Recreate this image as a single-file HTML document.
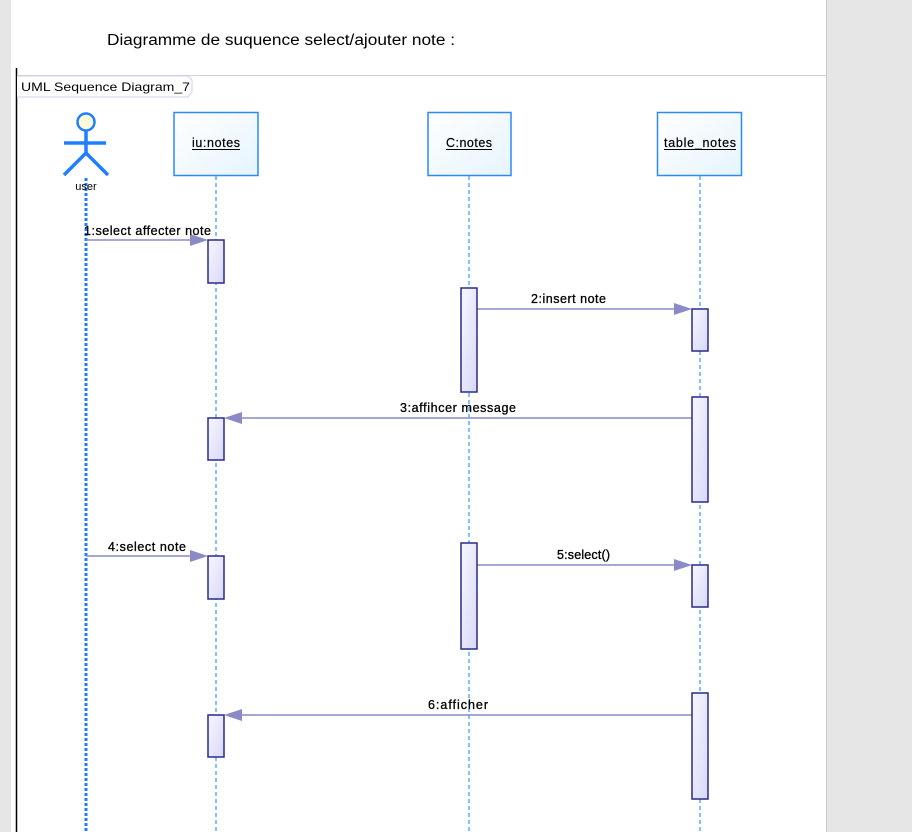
<!DOCTYPE html>
<html><head><meta charset="utf-8"><style>
html,body{margin:0;padding:0;width:912px;height:832px;overflow:hidden;background:#e6e6e6}
svg{display:block}
</style></head><body>
<svg width="912" height="832" xmlns="http://www.w3.org/2000/svg" font-family="'Liberation Sans',sans-serif">
<defs>
<linearGradient id="ag" x1="0" y1="0" x2="1" y2="1"><stop offset="0" stop-color="#f7f7ff"/><stop offset="1" stop-color="#d8d8f8"/></linearGradient>
<linearGradient id="bg" x1="0" y1="0" x2="1" y2="1"><stop offset="0" stop-color="#ffffff"/><stop offset="1" stop-color="#e6f4fd"/></linearGradient>
</defs>
<rect x="0" y="0" width="912" height="832" fill="#e6e6e6"/>
<rect x="11" y="0" width="815" height="832" fill="#fff"/>
<line x1="826.5" y1="0" x2="826.5" y2="832" stroke="#c8c8c8"/>
<text x="107" y="45" font-size="15.5" fill="#000" textLength="348" lengthAdjust="spacingAndGlyphs">Diagramme de suquence select/ajouter note :</text>
<line x1="16" y1="75.5" x2="826" y2="75.5" stroke="#d0d0e4"/>
<line x1="16.5" y1="68" x2="16.5" y2="832" stroke="#000" stroke-width="1.5"/>
<path d="M17 76 H188 L192 80 V92 L188 97 H17" fill="#fff" stroke="#d0d0e4"/>
<text x="21" y="91" font-size="12" fill="#000" textLength="169" lengthAdjust="spacingAndGlyphs">UML Sequence Diagram_7</text>

<line x1="86" y1="178" x2="86" y2="832" stroke="#1e7fff" stroke-width="3" stroke-dasharray="3,2"/>
<g stroke="#3399ff" stroke-width="1.2" stroke-dasharray="4,3">
<line x1="216" y1="176" x2="216" y2="832"/>
<line x1="469" y1="176" x2="469" y2="832"/>
<line x1="700" y1="176" x2="700" y2="832"/>
</g>

<circle cx="86" cy="122" r="8.5" fill="#fdfbd8" stroke="#1e7fff" stroke-width="2.5"/>
<g stroke="#1e7fff" stroke-width="3.5" fill="none">
<line x1="86" y1="131" x2="86" y2="153"/>
<line x1="64" y1="143" x2="106" y2="143"/>
<path d="M64 175 L86 153 L108 175"/>
</g>
<text x="86" y="190" font-size="11" text-anchor="middle" fill="#000">user</text>

<g stroke="#2a8af6" stroke-width="1.5" fill="url(#bg)">
<rect x="174" y="112.5" width="84" height="63"/>
<rect x="428" y="112.5" width="83" height="63"/>
<rect x="657.5" y="112.5" width="84" height="63"/>
</g>
<g font-size="12.5" fill="#000" stroke="#000" stroke-width="0.2" lengthAdjust="spacingAndGlyphs">
<text x="192" y="147" textLength="48">iu:notes</text>
<text x="446" y="147" textLength="46">C:notes</text>
<text x="664" y="147" textLength="72">table_notes</text>
</g>
<g stroke="#000" stroke-width="1">
<line x1="192" y1="149.5" x2="240" y2="149.5"/>
<line x1="446" y1="149.5" x2="492" y2="149.5"/>
<line x1="664" y1="149.5" x2="736" y2="149.5"/>
</g>

<g stroke="#8a8ac6" stroke-width="1.5">
<line x1="86" y1="240" x2="200" y2="240"/>
<line x1="477" y1="309" x2="684" y2="309"/>
<line x1="692" y1="418" x2="232" y2="418"/>
<line x1="86" y1="556" x2="200" y2="556"/>
<line x1="477" y1="565" x2="684" y2="565"/>
<line x1="692" y1="715" x2="232" y2="715"/>
</g>
<g fill="#8a8ac6">
<path d="M208 240 L190 234 L190 246Z"/>
<path d="M692 309 L674 303 L674 315Z"/>
<path d="M224 418 L242 412 L242 424Z"/>
<path d="M208 556 L190 550 L190 562Z"/>
<path d="M692 565 L674 559 L674 571Z"/>
<path d="M224 715 L242 709 L242 721Z"/>
</g>
<g font-size="12.5" fill="#000" stroke="#000" stroke-width="0.3" lengthAdjust="spacingAndGlyphs">
<text x="84" y="235" textLength="127">1:select affecter note</text>
<text x="531" y="303" textLength="75">2:insert note</text>
<text x="400" y="412" textLength="116">3:affihcer message</text>
<text x="108" y="551" textLength="78">4:select note</text>
<text x="557" y="559" textLength="53">5:select()</text>
<text x="428" y="709" textLength="60">6:afficher</text>
</g>

<g fill="url(#ag)" stroke="#2a2a8a" stroke-width="1.5">
<rect x="208" y="240" width="16" height="43"/>
<rect x="461" y="288" width="16" height="104"/>
<rect x="692" y="309" width="16" height="42"/>
<rect x="692" y="397" width="16" height="105"/>
<rect x="208" y="418" width="16" height="42"/>
<rect x="208" y="556" width="16" height="43"/>
<rect x="461" y="543" width="16" height="106"/>
<rect x="692" y="565" width="16" height="42"/>
<rect x="692" y="693" width="16" height="106"/>
<rect x="208" y="715" width="16" height="42"/>
</g>
</svg>
</body></html>
